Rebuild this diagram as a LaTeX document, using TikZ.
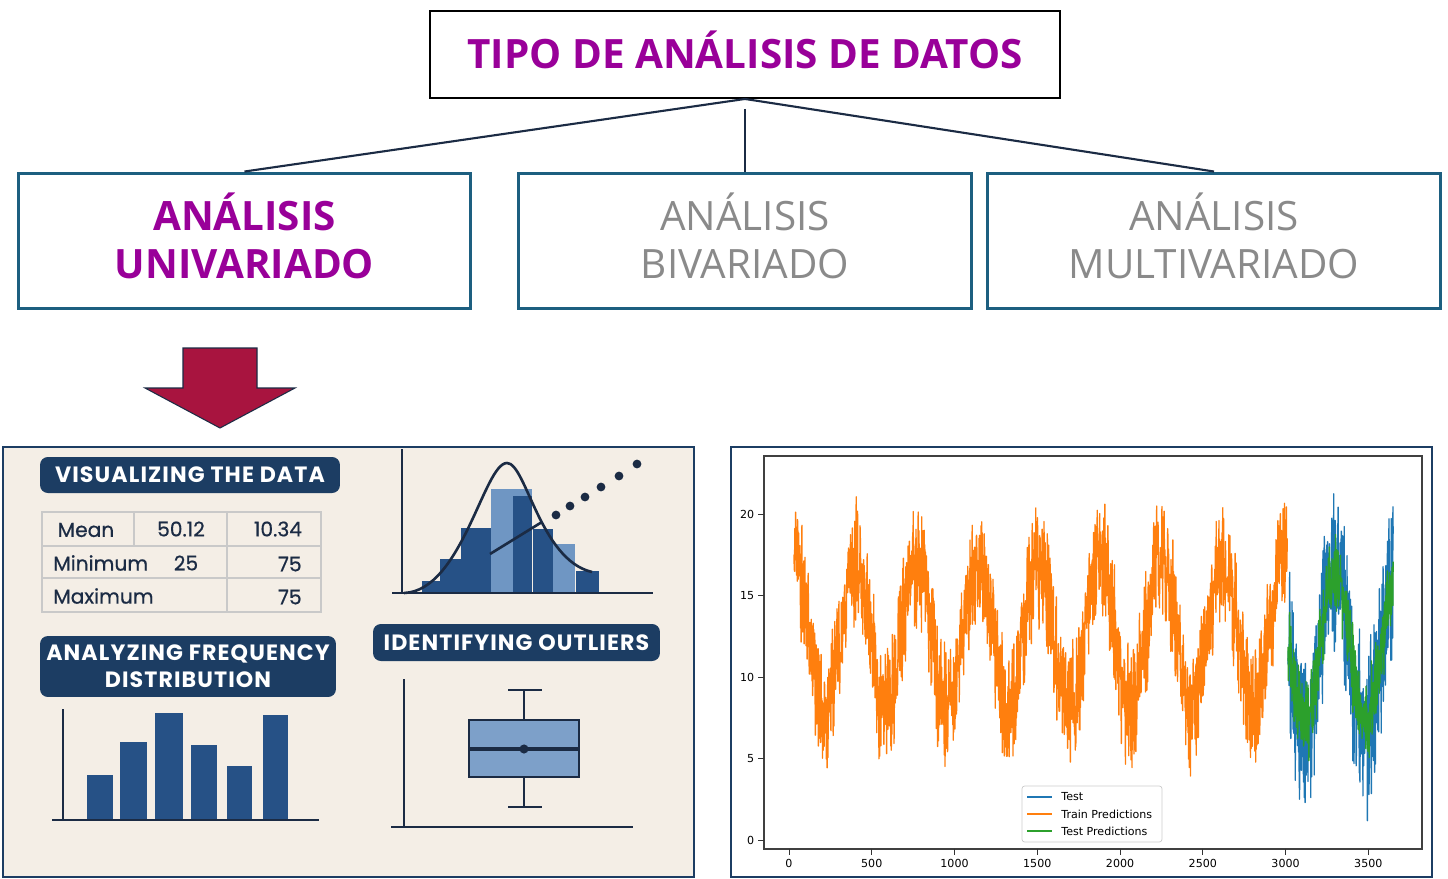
\documentclass[tikz,border=0pt]{standalone}
\usepackage{fontspec}
\usepackage{tikz}
\usetikzlibrary{arrows}
\setmainfont{Open Sans}
\newfontfamily\pildorafont{Poppins}
\newfontfamily\mplfont{DejaVu Sans}
\definecolor{Morado}{HTML}{990099}
\definecolor{Gris}{HTML}{8A8A8A}
\definecolor{Petroleo}{HTML}{1D5F80}
\definecolor{Tinta}{HTML}{1B2B44}
\definecolor{Marino}{HTML}{1C3D63}
\definecolor{BarraO}{HTML}{265186}
\definecolor{BarraC}{HTML}{6F96C3}
\definecolor{Crema}{HTML}{F4EEE6}
\definecolor{Granate}{HTML}{A8143F}
\definecolor{TabGris}{HTML}{C9C9C9}
\definecolor{mplAzul}{HTML}{1F77B4}
\definecolor{mplNaranja}{HTML}{FF7F0E}
\definecolor{mplVerde}{HTML}{2CA02C}
\tikzset{
  caja/.style = {align=center, inner sep=0pt, text centered, draw=Petroleo,
    line width=1.7pt, fill=white, minimum width=9.06cm, minimum height=2.72cm,
    text depth=5.7pt, font=\fontsize{23}{27.5}\selectfont},
  caja_t/.style = {caja, draw=black, line width=1.1pt, minimum width=12.6cm,
    minimum height=1.74cm, text height=16.5pt, text depth=0pt,
    text=Morado, font=\fontsize{23}{28}\selectfont\bfseries},% caja del titulo
  caja_u/.style = {caja, text=Morado, font=\fontsize{23}{27.5}\selectfont\bfseries},% caja elegida
  caja_g/.style = {caja, text=Gris},% cajas en gris
  rama/.style = {draw=Tinta, line width=1.2pt},
  flecha/.style = {fill=Granate, draw=Tinta, line width=0.6pt, line join=miter},
  panel_i/.style = {fill=Crema, draw=Marino, line width=1.2pt},
  panel_d/.style = {fill=white, draw=Marino, line width=1.4pt},
  pildora/.style = {rounded corners=4.5pt, fill=Marino, text=white, align=center,
    inner sep=0pt, font=\pildorafont\bfseries\fontsize{12.6}{15.5}\selectfont\addfontfeatures{LetterSpace=5}},
  celda/.style = {text=Tinta, inner sep=0pt,
    font=\pildorafont\fontsize{11.5}{13}\selectfont\addfontfeatures{FakeBold=0.6}},
  rejilla/.style = {draw=TabGris, line width=0.7pt},
  eje/.style = {draw=Tinta, line width=1.6pt},
  barra_o/.style = {fill=BarraO, draw=none},
  barra_c/.style = {fill=BarraC, draw=none},
  serie/.style = {line width=0.75pt, line join=round},
  marca/.style = {font=\mplfont\fontsize{6.3}{7.5}\selectfont, text=black, inner sep=2pt}
}

\begin{document}
\begin{tikzpicture} [x=0.02cm, y=-0.02cm]
  \useasboundingbox [fill=white] (0,0) rectangle (1448,879);
  % arbol de tipos
  \node [caja_t] (tipo) at (745,54.5) {TIPO DE ANÁLISIS DE DATOS};
  \node [caja_u] (uni) at (244.5,241) {ANÁLISIS\\UNIVARIADO};
  \node [caja_g] (bi) at (745,241) {ANÁLISIS\\BIVARIADO};
  \node [caja_g] (multi) at (1214,241) {ANÁLISIS\\MULTIVARIADO};
  \draw [rama] (tipo.south) -- (uni.north);
  \draw [rama] (tipo.south) -- (multi.north);
  \draw [rama, line width=0.7pt] ([yshift=-5.7pt]tipo.south) -- (bi.north);
  \draw [flecha] (183,348) -- (257,348) -- (257,388) -- (295,388) -- (220,428)
    -- (145,388) -- (183,388) -- cycle;

  % panel izquierdo
  \draw [panel_i] (3,447) rectangle (694,877);
  \node [pildora, minimum width=6cm, minimum height=0.72cm] (vis) at (190,475) {VISUALIZING THE DATA};
  \draw [rejilla] (42,512) rectangle (321,612);
  \draw [rejilla] (42,546) -- (321,546) (42,578) -- (321,578)
    (134,512) -- (134,546) (227,512) -- (227,612);
  \node [celda] (mean) at (86,530) {Mean};
  \node [celda] (mean_a) at (181,529) {50.12};
  \node [celda] (mean_b) at (278,529) {10.34};
  \node [celda, anchor=west] (mini) at (53,563) {Minimum};
  \node [celda] (mini_a) at (186,563) {25};
  \node [celda, anchor=east] (mini_b) at (302,564) {75};
  \node [celda, anchor=west] (maxi) at (53,596) {Maximum};
  \node [celda, anchor=east] (maxi_b) at (302,597) {75};

  % histograma con curva
  \foreach \a/\b/\c in {491/532/489, 553/575/544}
    \fill [barra_c] (\a,593) rectangle (\b,\c);
  \foreach \a/\b/\c in {422/440/581, 440/461/559, 461/491/528, 513/532/496, 533/553/529, 576/599/571}
    \fill [barra_o] (\a,593) rectangle (\b,\c);
  \draw [eje] (402,449) -- (402,593);
  \draw [eje] (392,593) -- (653,593);
  \draw [eje, line width=1.5pt] (404,593) .. controls (462,591) and (484,463) .. (507,463)
    .. controls (526,463) and (540,560) .. (592,572);
  \draw [eje, line width=1.5pt] (490,554) -- (542,522);
  \foreach \p/\q in {556/515, 570/506, 585/497, 601/487, 619/476, 637/464}
    \fill [Tinta] (\p,\q) circle (2.5pt);

  % frecuencias
  \node [pildora, minimum width=5.92cm, minimum height=1.22cm] (frec) at (188,666.5) {ANALYZING FREQUENCY\\DISTRIBUTION};
  \foreach \a/\b/\c in {87/113/775, 120/147/742, 155/183/713, 191/217/745, 227/252/766, 263/288/715}
    \fill [barra_o] (\a,820) rectangle (\b,\c);
  \draw [eje] (63,709) -- (63,820);
  \draw [eje] (52,820) -- (319,820);

  % caja y bigotes
  \node [pildora, minimum width=5.74cm, minimum height=0.74cm] (atip) at (516.5,642.5) {IDENTIFYING OUTLIERS};
  \draw [eje] (404,679) -- (404,827);
  \draw [eje] (391,827) -- (633,827);
  \draw [eje, fill=BarraC!90!white] (469,720) rectangle (579,777);
  \draw [eje, line width=2pt] (469,749) -- (579,749);
  \fill [Tinta] (524,749) circle (2.6pt);
  \draw [eje] (524,720) -- (524,690) (508,690) -- (542,690);
  \draw [eje] (524,777) -- (524,807) (508,807) -- (542,807);

  % panel derecho: serie temporal
  \draw [panel_d] (731,447) rectangle (1432,877);
  \draw [draw=black!75, line width=0.6pt] (764,456) rectangle (1422,849);
  \begin{scope}[shift={(789,840)}, x=0.003312cm, y=0.326cm]
    \pgfmathsetseed{11}
    \draw [serie, mplNaranja] plot[domain=30:3010, samples=1800]
      (\x, {12.5+4.5*cos(((\x-30)/370)*360)+2.6*rand+1.8*rand});
    \draw [serie, mplAzul] plot[domain=3015:3650, samples=450]
      (\x, {11.4+5*cos(((\x-3300)/370)*360)+3.5*rand+2.5*rand});
    \draw [serie, mplVerde] plot[domain=3015:3650, samples=400]
      (\x, {11.6+4.3*cos(((\x-3300)/370)*360)+1.8*rand+1.3*rand});
    \foreach \t in {0,500,...,3500}
      \draw [black!80, line width=0.5pt] (\t,-0.55) -- ++(0,-3.4pt) node [marca, below] {\t};
    \foreach \v in {0,5,...,20}
      \draw [black!80, line width=0.5pt] (-151,\v) -- ++(-3.4pt,0) node [marca, left] {\v};
  \end{scope}
  \node [draw=black!20, rounded corners=1.5pt, fill=white, fill opacity=0.9,
    minimum width=2.8cm, minimum height=1.12cm] (ley) at (1092,814) {};
  \foreach \y/\col/\txt in {797/mplAzul/Test, 814/mplNaranja/Train Predictions, 831/mplVerde/Test Predictions} {
    \draw [serie, \col] (1027,\y) -- (1052,\y);
    \node [marca, anchor=west, inner sep=0pt] at (1061,\y) {\txt};
  }
\end{tikzpicture}
\end{document}
